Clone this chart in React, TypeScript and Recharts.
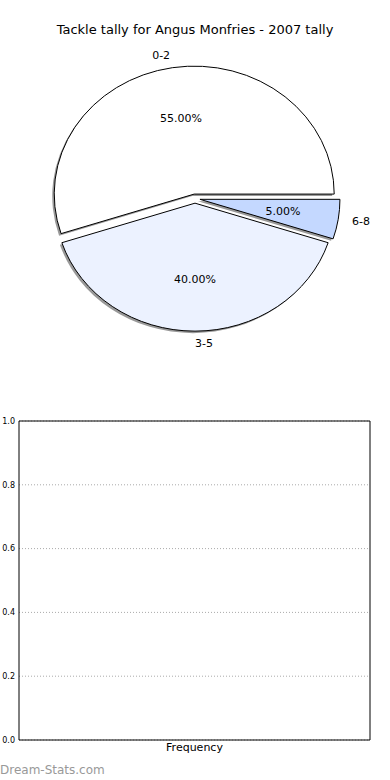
import React from 'react';
import { PieChart, Pie, Cell, BarChart, Bar, XAxis, YAxis, CartesianGrid } from 'recharts';

// tackle tally slices
const sliceNames = ['0-2', '3-5', '6-8'];
const sliceValues = [55, 40, 5];
const sliceColors = ['#ffffff', '#ecf2ff', '#c4d8ff'];

// empty frequency panel
const freqCategories = [''];
const freqValues = [0];
const freqTicks = [0, 0.2, 0.4, 0.6, 0.8, 1.0];

const pieData = sliceNames.map((name, i) => ({ name, value: sliceValues[i] }));
const freqData = freqCategories.map((name, i) => ({ name, frequency: freqValues[i] }));

const FONT = '"DejaVu Sans", sans-serif';
const SQUASH = 0.914; // pie is drawn a bit flatter than a circle
const EXPLODE = 5;
const RAD = Math.PI / 180;

const wedgePath = (cx: number, cy: number, r: number, a0: number, a1: number) => {
  const ry = r * SQUASH;
  const x0 = cx + r * Math.cos(a0 * RAD);
  const y0 = cy - ry * Math.sin(a0 * RAD);
  const x1 = cx + r * Math.cos(a1 * RAD);
  const y1 = cy - ry * Math.sin(a1 * RAD);
  const large = a1 - a0 > 180 ? 1 : 0;
  return `M${cx},${cy} L${x0},${y0} A${r},${ry} 0 ${large} 0 ${x1},${y1} Z`;
};

const explodedCenter = (cx: number, cy: number, mid: number) => ({
  x: cx + EXPLODE * Math.cos(mid * RAD),
  y: cy - EXPLODE * SQUASH * Math.sin(mid * RAD),
});

const renderWedge = (props: any) => {
  const { cx, cy, outerRadius, startAngle, endAngle, fill } = props;
  const mid = (startAngle + endAngle) / 2;
  const c = explodedCenter(cx, cy, mid);
  const d = wedgePath(c.x, c.y, outerRadius, Math.min(startAngle, endAngle), Math.max(startAngle, endAngle));
  return (
    <g>
      <path d={d} transform="translate(-2,2)" fill="#999" stroke="none" />
      <path d={d} fill={fill} stroke="#000" strokeWidth={1} />
    </g>
  );
};

const renderLabel = (props: any) => {
  const { cx, cy, midAngle, outerRadius, percent, name } = props;
  const c = explodedCenter(cx, cy, midAngle);
  const cos = Math.cos(midAngle * RAD);
  const sin = Math.sin(midAngle * RAD);
  const lx = c.x + outerRadius * 1.1 * cos;
  const ly = c.y - outerRadius * 1.1 * SQUASH * sin;
  const px = c.x + outerRadius * 0.6 * cos;
  const py = c.y - outerRadius * 0.6 * SQUASH * sin;
  return (
    <g fontFamily={FONT} fontSize={11} fill="#000">
      <text x={lx} y={ly} textAnchor={cos < -1e-6 ? 'end' : 'start'} dominantBaseline="central">
        {name}
      </text>
      <text x={px} y={py} textAnchor="middle" dominantBaseline="central">
        {(percent * 100).toFixed(2)}%
      </text>
    </g>
  );
};

export default function App() {
  return (
    <div style={{ position: 'absolute', left: 0, top: 0, width: 390, height: 780, background: '#fff' }}>
      <div
        style={{
          position: 'absolute',
          top: 22,
          width: 390,
          textAlign: 'center',
          fontFamily: FONT,
          fontSize: 13,
          lineHeight: '16px',
        }}
      >
        Tackle tally for Angus Monfries - 2007 tally
      </div>

      <div style={{ position: 'absolute', top: 0, left: 0 }}>
        <PieChart width={390} height={380} margin={{ top: 0, right: 0, bottom: 0, left: 0 }}>
          <Pie
            data={pieData}
            dataKey="value"
            nameKey="name"
            cx={195}
            cy={198.6}
            outerRadius={140}
            startAngle={0}
            endAngle={360}
            stroke="#000"
            label={renderLabel}
            labelLine={false}
            shape={renderWedge}
            isAnimationActive={false}
          >
            {pieData.map((d, i) => (
              <Cell key={d.name} fill={sliceColors[i]} />
            ))}
          </Pie>
        </PieChart>
      </div>

      <div style={{ position: 'absolute', top: 380, left: 0 }}>
        <BarChart width={390} height={400} data={freqData} margin={{ top: 40, right: 19, bottom: 20, left: 0 }}>
          <CartesianGrid vertical={false} stroke="#aaa" strokeDasharray="1 2" />
          <XAxis
            dataKey="name"
            tick={false}
            tickLine={false}
            height={20}
            axisLine={{ stroke: '#000' }}
            label={{ value: 'Frequency', position: 'insideTop', offset: 3, fontFamily: FONT, fontSize: 11, fill: '#000' }}
          />
          <XAxis xAxisId="top" orientation="top" dataKey="name" tick={false} tickLine={false} height={1} axisLine={{ stroke: '#000' }} />
          <YAxis
            type="number"
            domain={[0, 1]}
            allowDataOverflow
            ticks={freqTicks}
            interval={0}
            width={19}
            tickLine={false}
            tickSize={2}
            tickMargin={2}
            axisLine={{ stroke: '#000' }}
            tickFormatter={(v: number) => v.toFixed(1)}
            tick={{ fontFamily: FONT, fontSize: 8, fill: '#000' }}
          />
          <YAxis
            yAxisId="right"
            orientation="right"
            type="number"
            domain={[0, 1]}
            allowDataOverflow
            tick={false}
            tickLine={false}
            width={1}
            axisLine={{ stroke: '#000' }}
          />
          <Bar dataKey="frequency" fill="#c4d8ff" isAnimationActive={false} />
        </BarChart>
      </div>

      <div
        style={{
          position: 'absolute',
          left: 0,
          top: 762,
          fontFamily: FONT,
          fontSize: 12,
          lineHeight: '16px',
          color: '#999',
        }}
      >
        Dream-Stats.com
      </div>
    </div>
  );
}
